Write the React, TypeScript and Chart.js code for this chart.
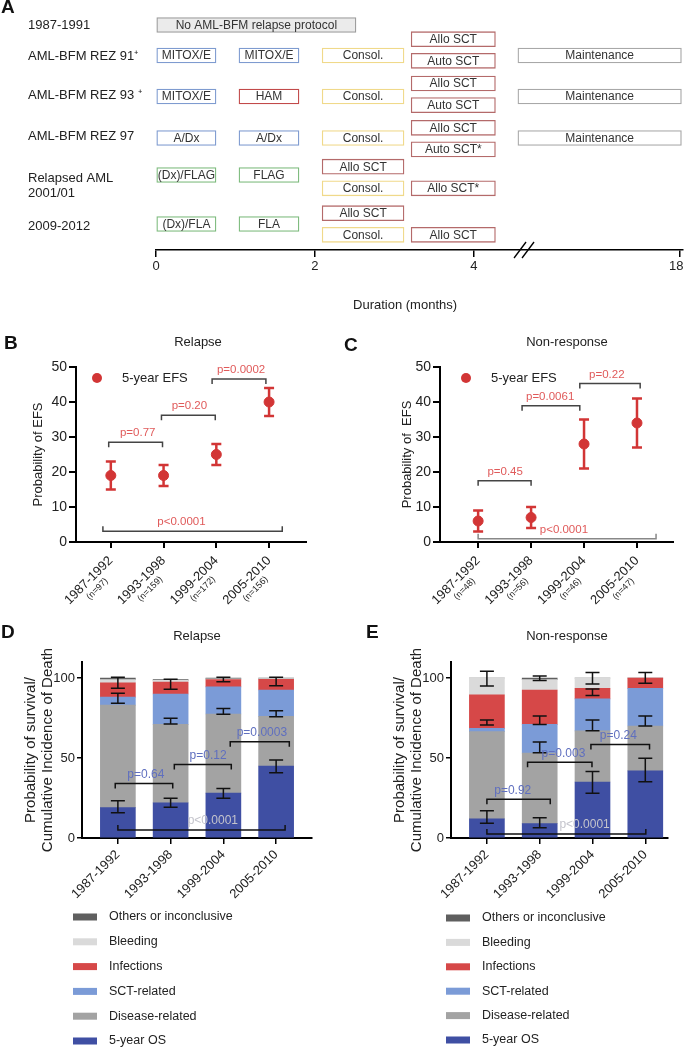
import React, { useEffect, useRef } from 'react';
import { Chart, registerables } from 'chart.js';

Chart.register(...registerables);

const FONT = "'Liberation Sans', Arial, Helvetica, sans-serif";
Chart.defaults.font.family = FONT;
Chart.defaults.color = '#222';

// ---------------- Panel A: treatment protocols ----------------
const PROTOCOLS: (string | string[])[] = [
  '1987-1991',
  'AML-BFM REZ 91\u207A',
  'AML-BFM REZ 93 \u207A',
  'AML-BFM REZ 97',
  ['Relapsed AML', '2001/01'],
  '2009-2012',
];
const DURATION_TICKS = [0, 2, 4, 6.59];
const DURATION_LABELS = ['0', '2', '4', '18'];
const DURATION_BREAK = 4.63;

const PHASE_LABELS = [
  'No AML-BFM relapse protocol',
  'MITOX/E', 'MITOX/E', 'Consol.', 'Allo SCT', 'Auto SCT', 'Maintenance',
  'MITOX/E', 'HAM', 'Consol.', 'Allo SCT', 'Auto SCT', 'Maintenance',
  'A/Dx', 'A/Dx', 'Consol.', 'Allo SCT', 'Auto SCT*', 'Maintenance',
  '(Dx)/FLAG', 'FLAG', 'Allo SCT', 'Consol.', 'Allo SCT*',
  '(Dx)/FLA', 'FLA', 'Allo SCT', 'Consol.', 'Allo SCT',
];
const PHASE_ROW = [0, 1, 1, 1, 1, 1, 1, 2, 2, 2, 2, 2, 2, 3, 3, 3, 3, 3, 3, 4, 4, 4, 4, 4, 5, 5, 5, 5, 5];
const PHASE_LANE = [0, 0, 0, 0, -1, 1, 0, 0, 0, 0, -1, 1, 0, 0, 0, 0, -1, 1, 0, 0, 0, -1, 1, 1, 0, 0, -1, 1, 1];
const PHASE_START = [0, 0, 1.044, 2.09, 3.21, 3.21, 4.553, 0, 1.044, 2.09, 3.21, 3.21, 4.553, 0, 1.044, 2.09, 3.21, 3.21, 4.553, 0, 1.044, 2.09, 2.09, 3.21, 0, 1.044, 2.09, 2.09, 3.21];
const PHASE_END = [2.516, 0.755, 1.799, 3.12, 4.27, 4.27, 6.61, 0.755, 1.799, 3.12, 4.27, 4.27, 6.61, 0.755, 1.799, 3.12, 4.27, 4.27, 6.61, 0.755, 1.799, 3.12, 3.12, 4.27, 0.755, 1.799, 3.12, 3.12, 4.27];
const PHASE_KIND = ['none', 'blue', 'blue', 'yellow', 'sct', 'sct', 'grey', 'blue', 'red', 'yellow', 'sct', 'sct', 'grey', 'blue', 'blue', 'yellow', 'sct', 'sct', 'grey', 'green', 'green', 'sct', 'yellow', 'sct', 'green', 'green', 'sct', 'yellow', 'sct'];

// ---------------- Panels B, C: 5-year EFS ----------------
const PERIODS = ['1987-1992', '1993-1998', '1999-2004', '2005-2010'];
const B_N = ['(n=97)', '(n=159)', '(n=172)', '(n=156)'];
const B_EFS = [19, 19, 25, 40];
const B_EFS_LO = [15, 16, 22, 36];
const B_EFS_HI = [23, 22, 28, 44];
const B_P_FROM = [-0.04, 0.96, 1.92, -0.15];
const B_P_TO = [0.98, 1.98, 2.94, 3.25];
const B_P_AT = [28.5, 36.2, 46.6, 3.1];
const B_P_TEXT = ['p=0.77', 'p=0.20', 'p=0.0002', 'p<0.0001'];
const B_P_TEXT_X = [0.51, 1.49, 2.47, 1.34];
const B_P_UP = [false, false, false, true];

const C_N = ['(n=48)', '(n=56)', '(n=46)', '(n=47)'];
const C_EFS = [6, 7, 28, 34];
const C_EFS_LO = [3, 4, 21, 27];
const C_EFS_HI = [9, 10, 35, 41];
const C_P_FROM = [0, 0.83, 1.92, 0];
const C_P_TO = [1, 1.92, 3.06, 3.36];
const C_P_AT = [17.5, 38.9, 45.3, 0.95];
const C_P_TEXT = ['p=0.45', 'p=0.0061', 'p=0.22', 'p<0.0001'];
const C_P_TEXT_X = [0.51, 1.36, 2.43, 1.62];
const C_P_UP = [false, false, false, true];

// ---------------- Panels D, E: survival / causes of death ----------------
const CAUSES = ['5-year OS', 'Disease-related', 'SCT-related', 'Infections', 'Bleeding', 'Others or inconclusive'];
const D_OS = [19, 22, 28, 45];
const D_DISEASE = [64, 49, 49.5, 31];
const D_SCT = [5, 19, 17, 16.5];
const D_INFECT = [9, 7.5, 4.5, 6.7];
const D_BLEED = [2, 1, 0.5, 0.5];
const D_OTHER = [1, 0.5, 0.5, 0.3];
const D_ERR_TOP = [[93.6, 100.4], [92.9, 99.2], [97.7, 100.4], [95.2, 100.4]];
const D_ERR_MID = [[84.2, 90.4], [71.3, 74.8], [77.3, 81], [75.8, 79.6]];
const D_ERR_OS = [[15.8, 23.3], [19.2, 24.8], [24.8, 31], [40.8, 48.8]];
const D_P_FROM = [-0.05, 1.07, 2.13, 0];
const D_P_TO = [1.04, 2.15, 3.25, 3.17];
const D_P_AT = [34, 46, 60.2, 5];
const D_P_TEXT = ['p=0.64', 'p=0.12', 'p=0.0003', 'p<0.0001'];
const D_P_TEXT_X = [0.53, 1.71, 2.73, 1.8];
const D_P_UP = [false, false, false, true];

const E_OS = [12, 9, 35, 42];
const E_DISEASE = [54.5, 44, 32, 28];
const E_SCT = [2, 18, 20, 23.5];
const E_INFECT = [21, 21.5, 6.5, 6.5];
const E_BLEED = [10.5, 6.5, 6.5, 0];
const E_OTHER = [0, 1, 0, 0];
const E_ERR_TOP = [[95, 104.2], [98.5, 101.2], [96.2, 103.5], [96.7, 103.5]];
const E_ERR_MID = [[70.6, 73.8], [71, 76.3], [67, 73.8], [70, 76.2]];
const E_ERR_LOW = [null, [53.3, 60], [89, 93.1], null];
const E_ERR_OS = [[9.2, 17], [6.4, 12.7], [28, 41.5], [35.2, 49.8]];
const E_P_FROM = [0, 0.77, 1.97, 0];
const E_P_TO = [1.2, 1.99, 3.08, 3.01];
const E_P_AT = [24.2, 47.3, 58.5, 2.5];
const E_P_TEXT = ['p=0.92', 'p=0.003', 'p=0.24', 'p<0.0001'];
const E_P_TEXT_X = [0.49, 1.45, 2.49, 1.85];
const E_P_UP = [false, false, false, true];

// ---------------- styles ----------------
const KIND_FILL: Record<string, string> = { none: '#ebebeb', blue: '#fff', red: '#fff', yellow: '#fff', sct: '#fff', grey: '#fff', green: '#fff' };
const KIND_BORDER: Record<string, string> = { none: '#9d9d9d', blue: '#7e9bd0', red: '#c24a4a', yellow: '#f0d98a', sct: '#b46a6a', grey: '#a8a8a8', green: '#7dbb7d' };
const CAUSE_COLORS = ['#3f4fa3', '#a3a3a3', '#7b9bd7', '#d64848', '#dadada', '#5f5f5f'];
const EFS_RED = '#d23535';
const P_RED = '#e05a5a';
const P_BLUE = '#5f6fbf';
const P_LIGHT = '#c4c4cc';

// layout for panel A (pixel lanes on a pixel y axis)
const ROW_Y = [25, 55.5, 96.5, 138, 175, 224];
const PAIR_Y = [25, 50, 94.3, 138.6, 177.5, 224];
const LANE_HALF = 10.8;
const ROW_LABEL_Y = [25.7, 56.7, 95, 136.7, 185.8, 226];

function laneY(i: number) {
  const r = PHASE_ROW[i];
  const l = PHASE_LANE[i];
  return l === 0 ? ROW_Y[r] : PAIR_Y[r] + l * LANE_HALF;
}

function noPad(s: any) {
  s.paddingTop = 0;
  s.paddingBottom = 0;
  s.paddingLeft = 0;
  s.paddingRight = 0;
}

function makeA(): any {
  return {
    type: 'bar',
    data: {
      datasets: [{
        data: PHASE_LABELS.map((_, i) => ({ x: [PHASE_START[i], PHASE_END[i]], y: laneY(i) })),
        backgroundColor: PHASE_KIND.map(k => KIND_FILL[k]),
        borderColor: PHASE_KIND.map(k => KIND_BORDER[k]),
        borderWidth: 1.3,
        borderSkipped: false,
        barThickness: 15,
      }],
    },
    options: {
      indexAxis: 'y',
      animation: false,
      responsive: false,
      devicePixelRatio: 1,
      layout: { padding: { left: 28, right: 2, top: 0, bottom: 0 } },
      plugins: { legend: { display: false }, tooltip: { enabled: false } },
      scales: {
        x: {
          type: 'linear', min: 0, max: 6.63, offset: false,
          afterBuildTicks: (s: any) => { s.ticks = DURATION_TICKS.map(v => ({ value: v })); },
          afterFit: (s: any) => { s.height = 65; noPad(s); },
          ticks: {
            autoSkip: false, maxRotation: 0, padding: 2, font: { size: 13 }, color: '#222',
            callback: (_v: any, i: number) => (i === DURATION_LABELS.length - 1 ? DURATION_LABELS[i] + '\u00A0\u00A0' : DURATION_LABELS[i]),
          },
          grid: { drawOnChartArea: false, offset: false, tickLength: 7, color: '#000', lineWidth: 1.5 },
          border: { color: '#000', width: 1.5 },
          title: {
            display: true,
            text: 'Duration (months)' + '\u00A0'.repeat(8),
            font: { size: 13 }, color: '#222', padding: { top: 0, bottom: 2 },
          },
        },
        y: {
          type: 'linear', reverse: true, min: 0, max: 250, offset: false,
          afterBuildTicks: (s: any) => { s.ticks = ROW_LABEL_Y.map(v => ({ value: v })); },
          afterFit: (s: any) => { s.width = 128; noPad(s); },
          ticks: { autoSkip: false, crossAlign: 'far', font: { size: 13 }, color: '#222', callback: (_v: any, i: number) => PROTOCOLS[i] },
          grid: { display: false },
          border: { display: false },
        },
      },
    },
    plugins: [{
      id: 'phaseText',
      afterDatasetsDraw(chart: any) {
        const ctx = chart.ctx;
        const meta = chart.getDatasetMeta(0);
        ctx.save();
        ctx.font = `12px ${FONT}`;
        ctx.fillStyle = '#333';
        ctx.textAlign = 'center';
        ctx.textBaseline = 'middle';
        meta.data.forEach((el: any, i: number) => {
          const p = el.getProps(['x', 'y', 'base'], true);
          ctx.fillText(PHASE_LABELS[i], (p.x + p.base) / 2, p.y + 0.5);
        });
        ctx.restore();
      },
      afterDraw(chart: any) {
        const ctx = chart.ctx;
        const bx = chart.scales.x.getPixelForValue(DURATION_BREAK);
        const yb = chart.chartArea.bottom;
        ctx.save();
        ctx.strokeStyle = '#000';
        ctx.lineWidth = 1.3;
        for (const d of [-4, 4]) {
          ctx.beginPath();
          ctx.moveTo(bx + d - 6, yb + 8);
          ctx.lineTo(bx + d + 6, yb - 8);
          ctx.stroke();
        }
        ctx.restore();
      },
    }],
  };
}

interface BracketSet { from: number[]; to: number[]; at: number[]; text: string[]; textX: number[]; up: boolean[] }

function drawBrackets(chart: any, b: BracketSet, lineColors: string[], textColors: string[], size: number) {
  const ctx = chart.ctx;
  const xs = chart.scales.x;
  const ys = chart.scales.y;
  ctx.save();
  ctx.lineWidth = 1.5;
  ctx.font = `${size}px ${FONT}`;
  ctx.textAlign = 'center';
  ctx.textBaseline = 'middle';
  b.from.forEach((f, i) => {
    const x1 = xs.getPixelForValue(f);
    const x2 = xs.getPixelForValue(b.to[i]);
    const y = ys.getPixelForValue(b.at[i]);
    const t = b.up[i] ? -5 : 5;
    ctx.strokeStyle = lineColors[i];
    ctx.beginPath();
    ctx.moveTo(x1, y + t);
    ctx.lineTo(x1, y);
    ctx.lineTo(x2, y);
    ctx.lineTo(x2, y + t);
    ctx.stroke();
    ctx.fillStyle = textColors[i];
    ctx.fillText(b.text[i], xs.getPixelForValue(b.textX[i]), y - 9);
  });
  ctx.restore();
}

interface EfsParams {
  values: number[]; lo: number[]; hi: number[]; n: string[];
  xMin: number; xMax: number; yWidth: number; padRight: number; titlePad: number; title: string;
  brackets: BracketSet; bracketColors: string[]; legendX: number;
}

function makeEfs(p: EfsParams): any {
  return {
    type: 'scatter',
    data: {
      datasets: [{
        label: '5-year EFS',
        data: p.values.map((v, i) => ({ x: i, y: v })),
        backgroundColor: EFS_RED,
        borderColor: EFS_RED,
        pointRadius: 5,
        pointHoverRadius: 5,
      }],
    },
    options: {
      animation: false,
      responsive: false,
      devicePixelRatio: 1,
      layout: { padding: { left: 0, right: p.padRight, top: 37, bottom: 0 } },
      plugins: { legend: { display: false }, tooltip: { enabled: false } },
      scales: {
        x: {
          type: 'linear', min: p.xMin, max: p.xMax,
          afterBuildTicks: (s: any) => { s.ticks = PERIODS.map((_, i) => ({ value: i })); },
          afterFit: (s: any) => { s.height = 68; noPad(s); },
          ticks: { autoSkip: false, minRotation: 45, maxRotation: 45, padding: 5, font: { size: 13 }, color: '#222', callback: (_v: any, i: number) => PERIODS[i] },
          grid: { drawOnChartArea: false, tickLength: 6, color: '#000', lineWidth: 2 },
          border: { color: '#000', width: 2 },
        },
        y: {
          type: 'linear', min: 0, max: 50,
          afterFit: (s: any) => { s.width = p.yWidth; noPad(s); },
          ticks: { stepSize: 10, padding: 2, font: { size: 14 }, color: '#222' },
          grid: { drawOnChartArea: false, tickLength: 7, color: '#000', lineWidth: 2 },
          border: { color: '#000', width: 2 },
          title: { display: true, text: p.title, font: { size: 13 }, color: '#222', padding: { top: p.titlePad, bottom: 0 } },
        },
      },
    },
    plugins: [{
      id: 'efsExtras',
      beforeDatasetsDraw(chart: any) {
        const ctx = chart.ctx;
        const xs = chart.scales.x;
        const ys = chart.scales.y;
        ctx.save();
        ctx.strokeStyle = EFS_RED;
        ctx.lineWidth = 2.5;
        p.lo.forEach((lo, i) => {
          const x = xs.getPixelForValue(i);
          const y1 = ys.getPixelForValue(lo);
          const y2 = ys.getPixelForValue(p.hi[i]);
          ctx.beginPath();
          ctx.moveTo(x, y1); ctx.lineTo(x, y2);
          ctx.moveTo(x - 5, y1); ctx.lineTo(x + 5, y1);
          ctx.moveTo(x - 5, y2); ctx.lineTo(x + 5, y2);
          ctx.stroke();
        });
        ctx.restore();
      },
      afterDraw(chart: any) {
        const ctx = chart.ctx;
        drawBrackets(chart, p.brackets, p.bracketColors, [P_RED, P_RED, P_RED, P_RED], 11.5);
        // legend
        ctx.save();
        ctx.fillStyle = EFS_RED;
        ctx.beginPath();
        ctx.arc(p.legendX, 48, 5, 0, Math.PI * 2);
        ctx.fill();
        ctx.fillStyle = '#222';
        ctx.font = `13px ${FONT}`;
        ctx.textAlign = 'left';
        ctx.textBaseline = 'middle';
        ctx.fillText('5-year EFS', p.legendX + 25, 48);
        ctx.restore();
        // sample sizes as a small second line under each rotated period label
        const xs = chart.scales.x;
        const items = xs.getLabelItems ? xs.getLabelItems() : xs._labelItems;
        if (!items) return;
        items.forEach((item: any, i: number) => {
          const o = item.options;
          const [tx, ty] = o.translation;
          ctx.save();
          ctx.font = `13px ${FONT}`;
          const L = ctx.measureText(PERIODS[i]).width;
          ctx.translate(tx, ty);
          ctx.rotate(o.rotation);
          ctx.font = `9px ${FONT}`;
          ctx.fillStyle = '#222';
          ctx.textAlign = 'center';
          ctx.textBaseline = o.textBaseline;
          ctx.fillText(p.n[i], -L / 2, item.textOffset + 12);
          ctx.restore();
        });
      },
    }],
  };
}

interface StackParams {
  values: number[][]; errors: (number[] | null)[][];
  xMin: number; xMax: number; yWidth: number; padRight: number; titlePad: number;
  brackets: BracketSet; legendX: number; legendTop: number; legendStep: number;
}

function makeStack(p: StackParams): any {
  return {
    type: 'bar',
    data: {
      datasets: CAUSES.map((label, k) => ({
        label,
        data: p.values[k].map((v, i) => ({ x: i, y: v })),
        backgroundColor: CAUSE_COLORS[k],
        borderWidth: 0,
        barThickness: 35,
      })),
    },
    options: {
      animation: false,
      responsive: false,
      devicePixelRatio: 1,
      layout: { padding: { left: 0, right: p.padRight, top: 72, bottom: 139 } },
      plugins: { legend: { display: false }, tooltip: { enabled: false } },
      scales: {
        x: {
          type: 'linear', stacked: true, min: p.xMin, max: p.xMax, offset: false,
          afterBuildTicks: (s: any) => { s.ticks = PERIODS.map((_, i) => ({ value: i })); },
          afterFit: (s: any) => { s.height = 72; noPad(s); },
          ticks: { autoSkip: false, minRotation: 45, maxRotation: 45, padding: 3, font: { size: 13 }, color: '#222', callback: (_v: any, i: number) => PERIODS[i] },
          grid: { drawOnChartArea: false, offset: false, tickLength: 6, color: '#000', lineWidth: 1.5 },
          border: { color: '#000', width: 2 },
        },
        y: {
          type: 'linear', stacked: true, min: 0, max: 110,
          afterBuildTicks: (s: any) => { s.ticks = [0, 50, 100].map(v => ({ value: v })); },
          afterFit: (s: any) => { s.width = p.yWidth; noPad(s); },
          ticks: { padding: 2, font: { size: 13 }, color: '#222' },
          grid: { drawOnChartArea: false, tickLength: 5, color: '#000', lineWidth: 1.5 },
          border: { color: '#000', width: 2 },
          title: {
            display: true,
            text: ['Probability of survival/', 'Cumulative Incidence of Death'],
            font: { size: 15, lineHeight: 1.15 },
            color: '#222',
            padding: { top: p.titlePad, bottom: 0 },
          },
        },
      },
    },
    plugins: [{
      id: 'stackExtras',
      afterDatasetsDraw(chart: any) {
        const ctx = chart.ctx;
        const xs = chart.scales.x;
        const ys = chart.scales.y;
        ctx.save();
        ctx.strokeStyle = '#111';
        ctx.lineWidth = 1.5;
        p.errors.forEach(level => level.forEach((pair, i) => {
          if (!pair) return;
          const x = xs.getPixelForValue(i);
          const y1 = ys.getPixelForValue(pair[0]);
          const y2 = ys.getPixelForValue(pair[1]);
          ctx.beginPath();
          ctx.moveTo(x, y1); ctx.lineTo(x, y2);
          ctx.moveTo(x - 7, y1); ctx.lineTo(x + 7, y1);
          ctx.moveTo(x - 7, y2); ctx.lineTo(x + 7, y2);
          ctx.stroke();
        }));
        ctx.restore();
        drawBrackets(chart, p.brackets, ['#111', '#111', '#111', '#111'], [P_BLUE, P_BLUE, P_BLUE, P_LIGHT], 12);
      },
      afterDraw(chart: any) {
        const ctx = chart.ctx;
        const ds = chart.data.datasets;
        ctx.save();
        ctx.font = `12.5px ${FONT}`;
        ctx.textAlign = 'left';
        ctx.textBaseline = 'middle';
        for (let k = ds.length - 1, row = 0; k >= 0; k--, row++) {
          const y = p.legendTop + row * p.legendStep;
          ctx.fillStyle = ds[k].backgroundColor;
          ctx.fillRect(p.legendX, y - 3.5, 24, 7);
          ctx.fillStyle = '#222';
          ctx.fillText(ds[k].label, p.legendX + 36, y);
        }
        ctx.restore();
      },
    }],
  };
}

function ChartBox(props: { left: number; top: number; width: number; height: number; make: () => any }) {
  const ref = useRef<HTMLCanvasElement>(null);
  useEffect(() => {
    const chart = new Chart(ref.current as HTMLCanvasElement, props.make());
    return () => chart.destroy();
  }, []);
  return (
    <canvas
      ref={ref}
      width={props.width}
      height={props.height}
      style={{ position: 'absolute', left: props.left, top: props.top, width: props.width, height: props.height }}
    />
  );
}

const letterStyle = (left: number, top: number): React.CSSProperties => ({
  position: 'absolute', left, top, fontSize: 19, lineHeight: '19px', fontWeight: 'bold', fontFamily: FONT, color: '#111',
});
const titleStyle = (cx: number, cy: number): React.CSSProperties => ({
  position: 'absolute', left: cx, top: cy, transform: 'translate(-50%, -50%)', fontSize: 13, lineHeight: '13px',
  fontFamily: FONT, color: '#222', whiteSpace: 'nowrap',
});

export default function App() {
  return (
    <div style={{ position: 'absolute', left: 0, top: 0, width: 685, height: 1049, background: '#fff', overflow: 'hidden' }}>
      <ChartBox left={0} top={0} width={685} height={315} make={makeA} />
      <ChartBox
        left={0} top={330} width={343} height={280}
        make={() => makeEfs({
          values: B_EFS, lo: B_EFS_LO, hi: B_EFS_HI, n: B_N,
          xMin: -0.66, xMax: 3.7, yWidth: 76, padRight: 37, titlePad: 31, title: 'Probability of EFS',
          brackets: { from: B_P_FROM, to: B_P_TO, at: B_P_AT, text: B_P_TEXT, textX: B_P_TEXT_X, up: B_P_UP },
          bracketColors: ['#444', '#444', '#444', '#444'], legendX: 97,
        })}
      />
      <ChartBox
        left={343} top={330} width={342} height={280}
        make={() => makeEfs({
          values: C_EFS, lo: C_EFS_LO, hi: C_EFS_HI, n: C_N,
          xMin: -0.72, xMax: 3.68, yWidth: 97, padRight: 12, titlePad: 57, title: 'Probability of  EFS',
          brackets: { from: C_P_FROM, to: C_P_TO, at: C_P_AT, text: C_P_TEXT, textX: C_P_TEXT_X, up: C_P_UP },
          bracketColors: ['#444', '#444', '#444', '#888'], legendX: 123,
        })}
      />
      <ChartBox
        left={0} top={590} width={343} height={459}
        make={() => makeStack({
          values: [D_OS, D_DISEASE, D_SCT, D_INFECT, D_BLEED, D_OTHER],
          errors: [D_ERR_TOP, D_ERR_MID, D_ERR_OS],
          xMin: -0.68, xMax: 3.68, yWidth: 82, padRight: 31, titlePad: 22,
          brackets: { from: D_P_FROM, to: D_P_TO, at: D_P_AT, text: D_P_TEXT, textX: D_P_TEXT_X, up: D_P_UP },
          legendX: 73, legendTop: 327, legendStep: 24.8,
        })}
      />
      <ChartBox
        left={343} top={590} width={342} height={459}
        make={() => makeStack({
          values: [E_OS, E_DISEASE, E_SCT, E_INFECT, E_BLEED, E_OTHER],
          errors: [E_ERR_TOP, E_ERR_MID, E_ERR_LOW, E_ERR_OS],
          xMin: -0.68, xMax: 3.43, yWidth: 108, padRight: 17, titlePad: 48,
          brackets: { from: E_P_FROM, to: E_P_TO, at: E_P_AT, text: E_P_TEXT, textX: E_P_TEXT_X, up: E_P_UP },
          legendX: 103, legendTop: 328, legendStep: 24.4,
        })}
      />
      <div style={letterStyle(1, -3)}>A</div>
      <div style={letterStyle(4, 333)}>B</div>
      <div style={letterStyle(344, 335)}>C</div>
      <div style={letterStyle(1, 622)}>D</div>
      <div style={letterStyle(366, 622)}>E</div>
      <div style={titleStyle(198, 341)}>Relapse</div>
      <div style={titleStyle(567, 341)}>Non-response</div>
      <div style={titleStyle(197, 635)}>Relapse</div>
      <div style={titleStyle(567, 635)}>Non-response</div>
    </div>
  );
}
